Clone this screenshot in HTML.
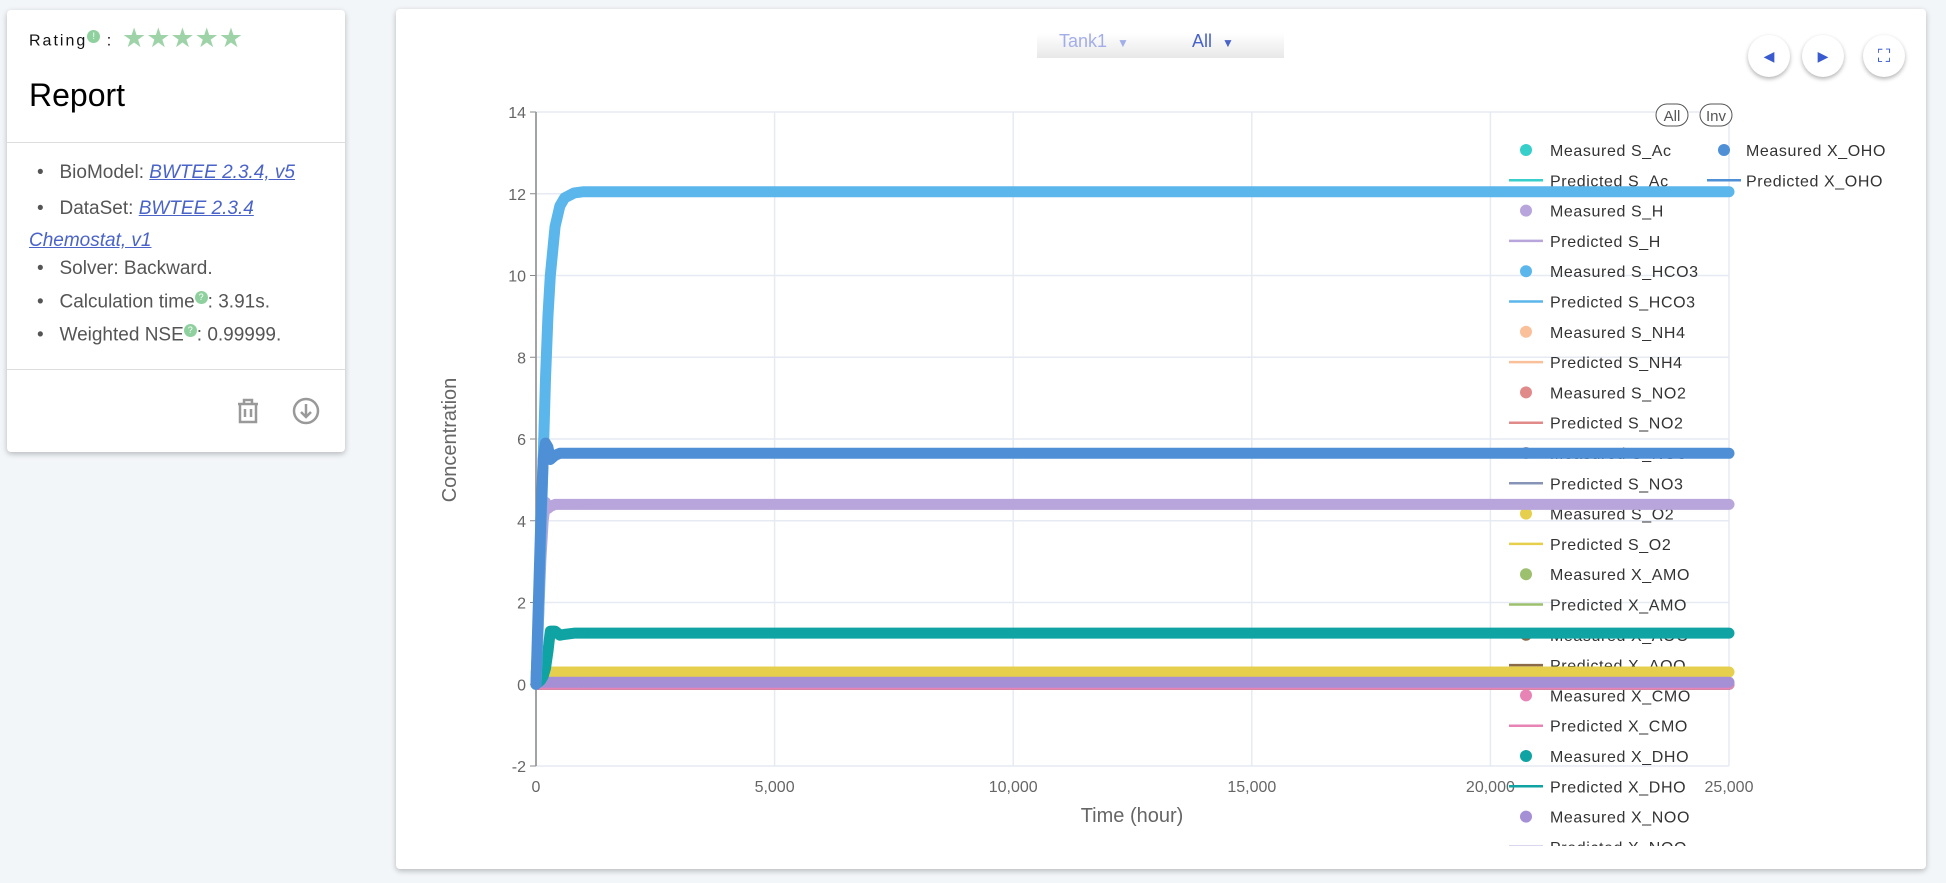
<!DOCTYPE html>
<html><head><meta charset="utf-8">
<style>
body{margin:0;width:1946px;height:883px;background:#f3f6f9;font-family:"Liberation Sans",sans-serif;position:relative;overflow:hidden}
.card{position:absolute;background:#fff;border-radius:4px;box-shadow:0 2px 6px rgba(0,0,0,.25)}
#left{left:7px;top:10px;width:338px;height:442px}
#right{left:396px;top:9px;width:1530px;height:860px}
.li{position:absolute;left:30px;font-size:19px;color:#555}
.li b{position:absolute;left:-0px;font-weight:normal}
.li a{color:#4a63c8;font-style:italic;text-decoration:underline}
.q{display:inline-block;width:13px;height:13px;border-radius:7px;background:#8fd19e;color:#fff;font-size:9px;text-align:center;line-height:13px;vertical-align:super}
.btn{position:absolute;top:26px;width:42px;height:42px;border-radius:21px;background:#fff;box-shadow:0 2px 4px rgba(0,0,0,.3);color:#3a5bd0;text-align:center;line-height:42px;font-size:14px}
</style></head><body>
<div id="left" class="card">
  <div style="position:absolute;left:22px;top:20px;font-size:16px;letter-spacing:2px;color:#111">Rating<span class="q" style="letter-spacing:0">!</span> :</div>
  <div style="position:absolute;left:115px;top:13px;font-size:27px;color:#9ed3a8;letter-spacing:0px">★★★★★</div>
  <div style="position:absolute;left:22px;top:67px;font-size:32px;color:#000">Report</div>
  <div style="position:absolute;left:0;top:132px;width:338px;height:1px;background:#ddd"></div>
  <div class="li" style="top:152px">•&nbsp;&nbsp; BioModel: <a>BWTEE 2.3.4, v5</a></div>
  <div class="li" style="left:22px;top:183px;width:270px;line-height:32px;text-indent:8px">•&nbsp;&nbsp; DataSet: <a>BWTEE 2.3.4 Chemostat, v1</a></div>
  <div class="li" style="top:248px">•&nbsp;&nbsp; Solver: Backward.</div>
  <div class="li" style="top:281px">•&nbsp;&nbsp; Calculation time<span class="q">?</span>: 3.91s.</div>
  <div class="li" style="top:314px">•&nbsp;&nbsp; Weighted NSE<span class="q">?</span>: 0.99999.</div>
  <div style="position:absolute;left:0;top:359px;width:338px;height:1px;background:#ddd"></div>
  <svg style="position:absolute;left:226px;top:386px" width="30" height="30"><path d="M5 8h20M11 8V4h8v4M7 8v18h16V8M12 13v8M18 13v8" fill="none" stroke="#999" stroke-width="2.5"/></svg>
  <svg style="position:absolute;left:284px;top:386px" width="30" height="30"><circle cx="15" cy="15" r="12" fill="none" stroke="#999" stroke-width="2.5"/><path d="M15 8v13M10 16l5 5 5-5" fill="none" stroke="#999" stroke-width="2.5"/></svg>
</div>
<div id="right" class="card">
  <div style="position:absolute;left:641px;top:24px;width:247px;height:25px;background:linear-gradient(#fff,#e8e8e8)">
    <span style="position:absolute;left:22px;top:-2px;font-size:18px;color:#a3aee8">Tank1 &nbsp;<span style="font-size:12px">▼</span></span>
    <span style="position:absolute;left:155px;top:-2px;font-size:18px;color:#4a63c8">All &nbsp;<span style="font-size:12px">▼</span></span>
  </div>
  <div class="btn" style="left:1352px">◀</div>
  <div class="btn" style="left:1406px">▶</div>
  <div class="btn" style="left:1467px;font-size:18px">⛶</div>
</div>
<svg id="chart" width="1946" height="883" style="position:absolute;left:0;top:0"></svg>
<script>
const times=[0,50,100,150,200,250,300,400,500,600,800,1000,25000];
const seriesNames=["S_Ac","S_H","S_HCO3","S_NH4","S_NO2","S_NO3","S_O2","X_AMO","X_AOO","X_CMO","X_DHO","X_NOO","X_OHO"];
const seriesColors=["#36cfc9","#b8a5db","#5bb6ec","#f9c09a","#e08a8a","#8794b8","#e6cf4d","#9dc06f","#8b6a4a","#e883b6","#0fa3a3","#a58fd5","#4f8fd6"];
const vS_Ac=[0,0,0,0,0,0,0,0,0,0,0,0,0];
const vS_H=[0,1.5,3,4,4.45,4.3,4.35,4.4,4.4,4.4,4.4,4.4,4.4];
const vS_HCO3=[0,1.5,3.5,5.5,7.5,9,10,11.2,11.7,11.9,12.02,12.05,12.05];
const vS_NH4=[0,0,0,0,0,0,0,0,0,0,0,0,0];
const vS_NO2=[0,0,0,0,0,0,0,0,0,0,0,0,0];
const vS_NO3=[0,0,0,0,0,0,0,0,0,0,0,0,0];
const vS_O2=[0.3,0.3,0.3,0.3,0.3,0.3,0.3,0.3,0.3,0.3,0.3,0.3,0.3];
const vX_AMO=[0,0,0,0,0,0,0,0,0,0,0,0,0];
const vX_AOO=[0,0,0,0,0,0,0,0,0,0,0,0,0];
const vX_CMO=[0,0,0,0,0,0,0,0,0,0,0,0,0];
const vX_DHO=[0,0.05,0.1,0.2,0.4,0.8,1.3,1.3,1.2,1.22,1.25,1.25,1.25];
const vX_NOO=[0.05,0.05,0.05,0.05,0.05,0.05,0.05,0.05,0.05,0.05,0.05,0.05,0.05];
const vX_OHO=[0,2,4,5.5,5.9,5.8,5.5,5.6,5.65,5.65,5.65,5.65,5.65];
const seriesValues=[vS_Ac,vS_H,vS_HCO3,vS_NH4,vS_NO2,vS_NO3,vS_O2,vX_AMO,vX_AOO,vX_CMO,vX_DHO,vX_NOO,vX_OHO];
const drawOrder=[0,3,4,5,7,8,9,6,11,1,10,2,12];
const yTicks=[-2,0,2,4,6,8,10,12,14];
const xTicks=[0,5000,10000,15000,20000,25000];
const xTickLabels=["0","5,000","10,000","15,000","20,000","25,000"];
const X0=536,X1=1729,Y0=766,Y1=112;
const sx=t=>X0+(t-0)/25000*(X1-X0);
const sy=v=>Y0-(v+2)/16*(Y0-Y1);
const svg=document.getElementById('chart');
const NS='http://www.w3.org/2000/svg';
function mk(tag,attrs,parent){const e=document.createElementNS(NS,tag);for(const k in attrs)e.setAttribute(k,attrs[k]);(parent||svg).appendChild(e);return e;}
const grid=mk('g',{});


yTicks.forEach(v=>{mk('line',{x1:X0,x2:X1,y1:sy(v),y2:sy(v),stroke:'#e6eaf2','stroke-width':1.5},grid);
 mk('line',{x1:X0-6,x2:X0,y1:sy(v),y2:sy(v),stroke:'#888'},grid);
 const t=mk('text',{x:X0-10,y:sy(v)+6,'text-anchor':'end','font-size':16,fill:'#666'},grid);t.textContent=v;
 
 });
xTicks.forEach((v,i)=>{mk('line',{x1:sx(v),x2:sx(v),y1:Y1,y2:Y0,stroke:'#e6eaf2','stroke-width':1.5},grid);
 const t=mk('text',{x:sx(v),y:Y0+26,'text-anchor':'middle','font-size':16,fill:'#666'},grid);t.textContent=xTickLabels[i];
 
 });
mk('line',{x1:X0,x2:X0,y1:Y1,y2:Y0,stroke:'#888','stroke-width':1.5});
let yt=mk('text',{x:0,y:0,transform:'translate(456,440) rotate(-90)','text-anchor':'middle','font-size':20,fill:'#666'});yt.textContent='Concentration';


let xt=mk('text',{x:1132,y:822,'text-anchor':'middle','font-size':20,fill:'#666'});xt.textContent='Time (hour)';


const lg=mk('g',{});


[['All',1672],['Inv',1716]].forEach(([s,x])=>{const g=mk('g',{},lg);
 mk('rect',{x:x-16,y:104,width:32,height:22,rx:11,fill:'#fff',stroke:'#555'},g);
 const t=mk('text',{x:x,y:121,'text-anchor':'middle','font-size':15,fill:'#555'},g);t.textContent=s;});
const legClip=mk('clipPath',{id:'lc'});mk('rect',{x:1450,y:130,width:480,height:716},legClip);
const lgi=mk('g',{'clip-path':'url(#lc)'},lg);
let row=0;
seriesNames.forEach((n,i)=>{
 const col=(n==='X_OHO')?1:0;const r=col?0:row;
 const mx=col?1724:1526,tx=col?1746:1550;
 [0,1].forEach(k=>{const y=150+(r*2+k)*30.3;
  const g=mk('g',{},lgi);
  
  
  if(k===0)mk('circle',{cx:mx,cy:y,r:6,fill:seriesColors[i]},g);
  else mk('line',{x1:mx-17,x2:mx+17,y1:y,y2:y,stroke:seriesColors[i],'stroke-width':2.5},g);
  const t=mk('text',{x:tx,y:y+6,'font-size':16,fill:'#333','letter-spacing':'0.6'},g);t.textContent=(k?'Predicted ':'Measured ')+n;});
 if(!col)row++;
});
drawOrder.forEach(i=>{
 const g=mk('g',{});
 
 
 const pts=times.map((t,j)=>sx(t)+','+sy(seriesValues[i][j])).join(' ');
 mk('polyline',{points:pts,fill:'none',stroke:seriesColors[i],'stroke-width':11,'stroke-linecap':'round','stroke-linejoin':'round'},g);
 times.forEach((t,j)=>{if(j<times.length-1)mk('circle',{cx:sx(t),cy:sy(seriesValues[i][j]),r:5,fill:seriesColors[i]},g);});
});
</script>
</body></html>
